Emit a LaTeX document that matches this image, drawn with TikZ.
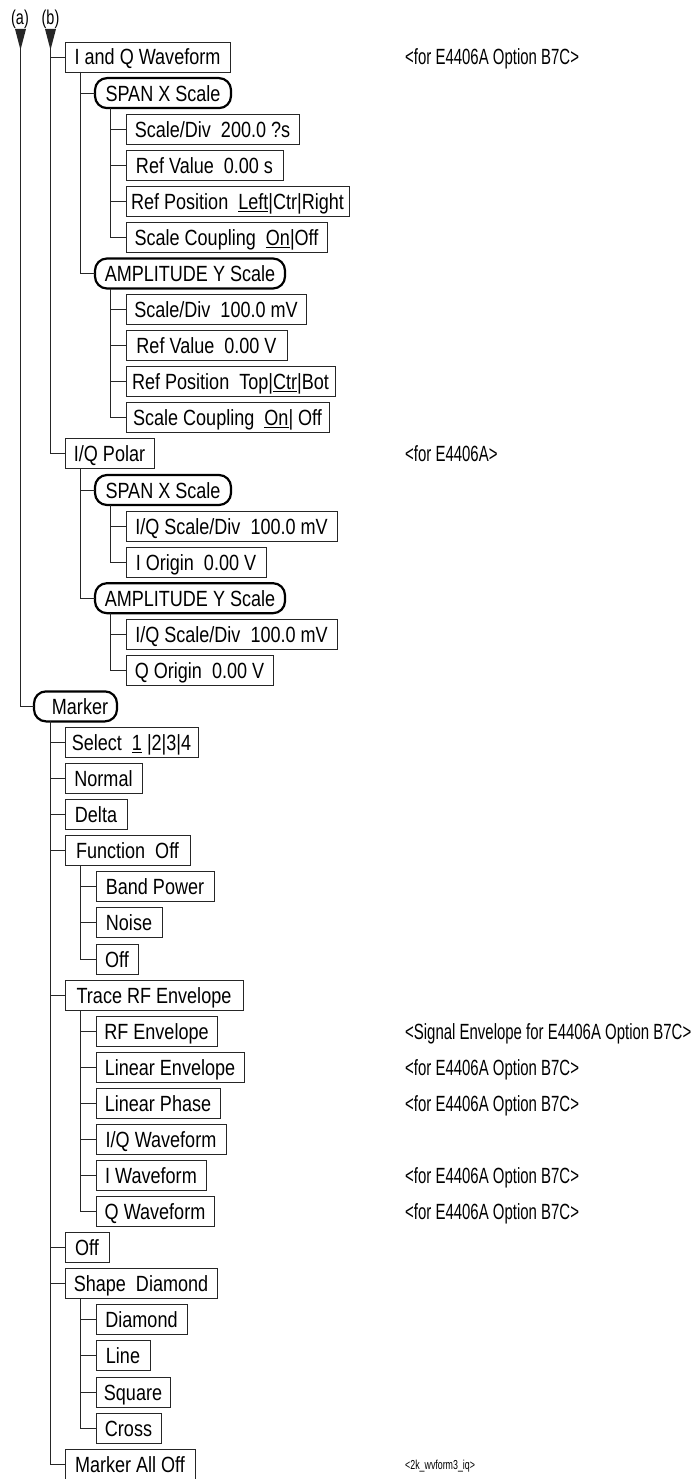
\documentclass[tikz,border=0pt]{standalone}
\usepackage{fontspec}
\setmainfont[FakeStretch=0.82]{Liberation Sans}
\newfontfamily\narrowfont[FakeStretch=0.68]{Liberation Sans}
\newfontfamily\labfont[FakeStretch=0.72]{Liberation Sans}
\begin{document}
\begin{tikzpicture}[x=1pt,y=-1pt,
  box/.style={draw=black!85, line width=0.9pt, rectangle, minimum height=30pt,
    inner xsep=1pt, inner ysep=0pt, outer sep=0pt, anchor=west,
    text height=16pt, text depth=0pt, font=\fontsize{22}{24}\selectfont},
  rbox/.style={box, draw=black, line width=2.2pt, rounded corners=12pt},
  conn/.style={draw=black!85, line width=0.9pt},
  note/.style={anchor=base west, inner sep=0pt, font=\narrowfont\fontsize{22}{24}\selectfont},
  lab/.style={inner sep=0pt, font=\labfont\fontsize{20}{22}\selectfont},
]
\useasboundingbox (0,0) rectangle (691,1479);

% top labels and arrows
\node[lab] (la) at (20,19.5) {(a)};
\node[lab] (lb) at (50.5,19.5) {(b)};
\coordinate (ta) at (20.5,29);
\coordinate (tb) at (50.5,29);

% boxes
\node[box, minimum width=165] (n0) at (65,57) {I and Q Waveform};
\node[rbox, minimum width=136] (n1) at (95,93.1) {SPAN X Scale};
\node[box, minimum width=173] (n2) at (126,129.2) {Scale/Div\ \ 200.0 ?s};
\node[box, minimum width=157] (n3) at (126,165.2) {Ref Value\ \ 0.00 s};
\node[box, minimum width=223] (n4) at (126,201.3) {Ref Position\ \ \underline{Left}|Ctr|Right};
\node[box, minimum width=201] (n5) at (126,237.4) {Scale Coupling\ \ \underline{On}|Off};
\node[rbox, minimum width=190] (n6) at (95,273.5) {AMPLITUDE Y Scale};
\node[box, minimum width=180] (n7) at (126,309.6) {Scale/Div\ \ 100.0 mV};
\node[box, minimum width=161] (n8) at (126,345.6) {Ref Value\ \ 0.00 V};
\node[box, minimum width=209] (n9) at (126,381.7) {Ref Position\ \ Top|\underline{Ctr}|Bot};
\node[box, minimum width=203] (n10) at (126,417.8) {Scale Coupling\ \ \underline{On}| Off};
\node[box, minimum width=89] (n11) at (65,453.9) {I/Q Polar};
\node[rbox, minimum width=136] (n12) at (95,490.0) {SPAN X Scale};
\node[box, minimum width=211] (n13) at (126,526.0) {I/Q Scale/Div\ \ 100.0 mV};
\node[box, minimum width=140] (n14) at (126,562.1) {I Origin\ \ 0.00 V};
\node[rbox, minimum width=190] (n15) at (95,598.2) {AMPLITUDE Y Scale};
\node[box, minimum width=211] (n16) at (126,634.3) {I/Q Scale/Div\ \ 100.0 mV};
\node[box, minimum width=147] (n17) at (126,670.4) {Q Origin\ \ 0.00 V};
\node[rbox, minimum width=83] (n18) at (34,706.4) {\hspace{9pt}Marker};
\node[box, minimum width=133] (n19) at (65,742.5) {Select\ \ \underline{1}\ |2|3|4};
\node[box, minimum width=77] (n20) at (65,778.6) {Normal};
\node[box, minimum width=62] (n21) at (65,814.7) {Delta};
\node[box, minimum width=125] (n22) at (65,850.8) {Function\ \ Off};
\node[box, minimum width=118] (n23) at (96,886.8) {Band Power};
\node[box, minimum width=66] (n24) at (96,922.9) {Noise};
\node[box, minimum width=42] (n25) at (96,959.0) {Off};
\node[box, minimum width=178] (n26) at (65,995.1) {Trace RF Envelope};
\node[box, minimum width=121] (n27) at (96,1031.2) {RF Envelope};
\node[box, minimum width=148] (n28) at (96,1067.2) {Linear Envelope};
\node[box, minimum width=124] (n29) at (96,1103.3) {Linear Phase};
\node[box, minimum width=130] (n30) at (96,1139.4) {I/Q Waveform};
\node[box, minimum width=110] (n31) at (96,1175.5) {I Waveform};
\node[box, minimum width=118] (n32) at (96,1211.6) {Q Waveform};
\node[box, minimum width=44] (n33) at (65,1247.6) {Off};
\node[box, minimum width=152] (n34) at (65,1283.7) {Shape\ \ Diamond};
\node[box, minimum width=91] (n35) at (96,1319.8) {Diamond};
\node[box, minimum width=54] (n36) at (96,1355.9) {Line};
\node[box, minimum width=74] (n37) at (96,1392.0) {Square};
\node[box, minimum width=65] (n38) at (96,1428.0) {Cross};
\node[box, minimum width=130] (n39) at (65,1464.1) {Marker All Off};

% notes
\node[note] (c0) at (405,65) {<for E4406A Option B7C>};
\node[note] (c11) at (405,461.9) {<for E4406A>};
\node[note] (c27) at (405,1039.2) {<Signal Envelope for E4406A Option B7C>};
\node[note] (c28) at (405,1075.2) {<for E4406A Option B7C>};
\node[note] (c29) at (405,1111.3) {<for E4406A Option B7C>};
\node[note] (c31) at (405,1183.5) {<for E4406A Option B7C>};
\node[note] (c32) at (405,1219.6) {<for E4406A Option B7C>};
\node[note, font=\narrowfont\fontsize{13}{14}\selectfont] (c39) at (405,1469) {<2k\_wvform3\_iq>};

% trunks with arrowheads
\draw[conn] (ta) |- (n18.west);
\draw[conn] (tb) |- (n0.west);
\draw[conn] (tb) |- (n11.west);
\fill[black!85] (ta) ++(-5.5,0) -- ++(11,0) -- ++(-5.5,21) -- cycle;
\fill[black!85] (tb) ++(-5.5,0) -- ++(11,0) -- ++(-5.5,21) -- cycle;

% connectors
\foreach \c in {n1,n6} {\draw[conn] (n0.south west) ++(15,0) |- (\c.west);}
\foreach \c in {n2,n3,n4,n5} {\draw[conn] (n1.south west) ++(15,0) |- (\c.west);}
\foreach \c in {n7,n8,n9,n10} {\draw[conn] (n6.south west) ++(15,0) |- (\c.west);}
\foreach \c in {n12,n15} {\draw[conn] (n11.south west) ++(15,0) |- (\c.west);}
\foreach \c in {n13,n14} {\draw[conn] (n12.south west) ++(15,0) |- (\c.west);}
\foreach \c in {n16,n17} {\draw[conn] (n15.south west) ++(15,0) |- (\c.west);}
\foreach \c in {n19,n20,n21,n22,n26,n33,n34,n39} {\draw[conn] (n18.south west) ++(16,0) |- (\c.west);}
\foreach \c in {n23,n24,n25} {\draw[conn] (n22.south west) ++(15,0) |- (\c.west);}
\foreach \c in {n27,n28,n29,n30,n31,n32} {\draw[conn] (n26.south west) ++(15,0) |- (\c.west);}
\foreach \c in {n35,n36,n37,n38} {\draw[conn] (n34.south west) ++(15,0) |- (\c.west);}
\end{tikzpicture}
\end{document}
